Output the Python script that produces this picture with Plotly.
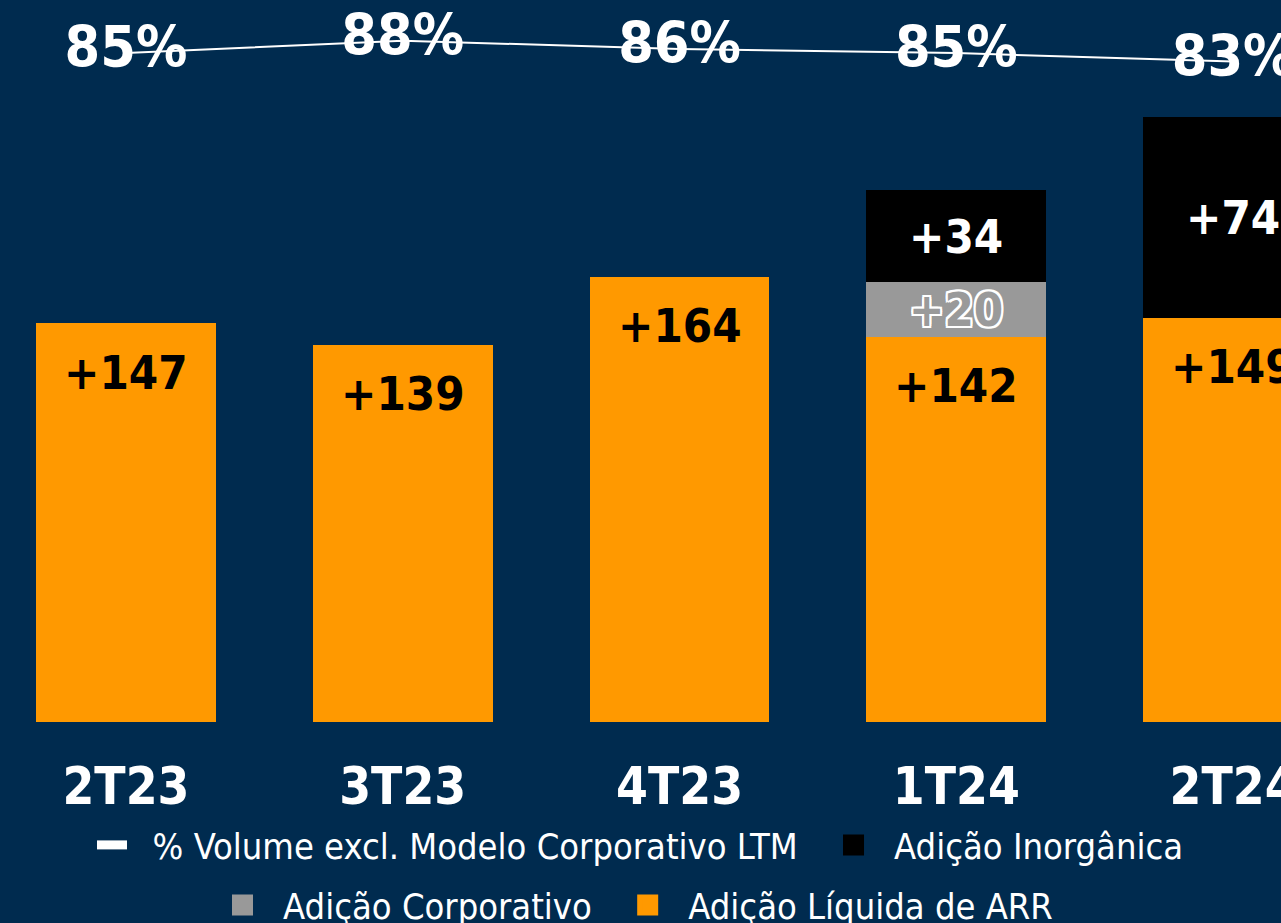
import plotly.graph_objects as go

quarters = ["2T23", "3T23", "4T23", "1T24", "2T24"]
arr_liquida = [147, 139, 164, 142, 149]
corporativo = [None, None, None, 20, None]
inorganica = [None, None, None, 34, 74]
pct_volume = [85, 88, 86, 85, 83]

BG = "#002B4F"
ORANGE = "#FF9900"
GREY = "#999999"
FONT = "DejaVu Sans Condensed"
NBSP = "\u00a0"

fig = go.Figure()

fig.add_trace(go.Bar(x=quarters, y=arr_liquida, showlegend=False,
                     marker=dict(color=ORANGE, line=dict(width=0))))
fig.add_trace(go.Bar(x=quarters, y=corporativo, showlegend=False,
                     marker=dict(color=GREY, line=dict(width=0))))
fig.add_trace(go.Bar(x=quarters, y=inorganica, showlegend=False,
                     marker=dict(color="#000000", line=dict(width=0))))
fig.add_trace(go.Scatter(x=quarters, y=pct_volume, yaxis="y2", showlegend=False,
                         mode="lines+text", line=dict(color="white", width=2),
                         text=[f"{v}%" for v in pct_volume], textposition="middle center",
                         textfont=dict(family=FONT, size=57, color="white", weight="bold")))

# legend entries (two centred rows)
fig.add_trace(go.Scatter(x=[None], y=[None], mode="lines",
                         name=NBSP * 2 + "% Volume excl. Modelo Corporativo LTM" + NBSP * 3,
                         line=dict(color="white", width=9), legend="legend"))
fig.add_trace(go.Scatter(x=[None], y=[None], mode="markers", name=NBSP * 2 + "Adição Inorgânica",
                         marker=dict(color="#000000", symbol="square", size=30,
                                     line=dict(color="#000000", width=6)), legend="legend"))
fig.add_trace(go.Scatter(x=[None], y=[None], mode="markers",
                         name=NBSP * 2 + "Adição Corporativo" + NBSP * 3,
                         marker=dict(color=GREY, symbol="square", size=30,
                                     line=dict(color=GREY, width=6)), legend="legend2"))
fig.add_trace(go.Scatter(x=[None], y=[None], mode="markers", name=NBSP * 2 + "Adição Líquida de ARR",
                         marker=dict(color=ORANGE, symbol="square", size=30,
                                     line=dict(color=ORANGE, width=6)), legend="legend2"))

# value labels
for q, a, c, i in zip(quarters, arr_liquida, corporativo, inorganica):
    fig.add_annotation(x=q, y=a, text=f"+{a}", showarrow=False, yanchor="middle",
                       yshift=-49, font=dict(family=FONT, size=47, color="black", weight="bold"))
    base = a
    if c:
        fig.add_annotation(x=q, y=base + c / 2, text=f"+{c}", showarrow=False,
                           font=dict(family=FONT, size=47, color="#9a9a9a", weight="bold",
                                     shadow="2px 2px 0 #fff, -2px -2px 0 #fff, 2px -2px 0 #fff, -2px 2px 0 #fff, 0 2px 0 #fff, 0 -2px 0 #fff, 2px 0 0 #fff, -2px 0 0 #fff"))
        base += c
    if i:
        fig.add_annotation(x=q, y=base + i / 2, text=f"+{i}", showarrow=False,
                           font=dict(family=FONT, size=47, color="white", weight="bold"))

legend_style = dict(orientation="h", x=0.5, xanchor="center", yanchor="middle",
                    yref="container", itemsizing="trace", traceorder="normal",
                    itemwidth=30,
                    font=dict(family=FONT, size=36, color="white"),
                    bgcolor="rgba(0,0,0,0)")

fig.update_layout(
    width=1281, height=923,
    barmode="stack", bargap=0.35,
    paper_bgcolor=BG, plot_bgcolor=BG,
    margin=dict(l=0, r=0, t=0, b=201),
    showlegend=True,
    legend=dict(y=0.0845, **legend_style),
    legend2=dict(y=0.0195, **legend_style),
    xaxis=dict(range=[-0.455, 4.173], showgrid=False, zeroline=False, ticks="",
               ticklabelstandoff=30, automargin=False,
               tickfont=dict(family=FONT, size=51, color="white", weight="bold")),
    yaxis=dict(range=[0, 266], visible=False, automargin=False),
    yaxis2=dict(range=[-76.2, 97.8], overlaying="y", visible=False, automargin=False),
    hovermode=False,
)

fig.write_html("out.html", config={"displayModeBar": False},
               post_script="document.body.style.margin='0';")
